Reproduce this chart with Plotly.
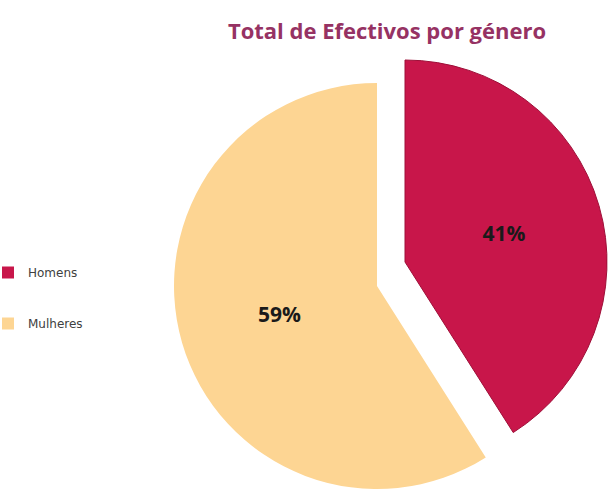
import plotly.graph_objects as go

# Data
labels = ["Homens", "Mulheres"]
values = [41, 59]
colors = ["#C8164A", "#FDD593"]
title_text = "Total de Efectivos por género"

W, H = 610, 492
total = sum(values)
pct_text = [f"<b>{v / total * 100:.0f}%</b>" for v in values]
clear = "rgba(0,0,0,0)"


def box(cx, cy, r):
    """Pie domain (paper coords) for a pie of radius r centred at pixel (cx, cy)."""
    return dict(x=[(cx - r) / W, (cx + r) / W],
                y=[1 - (cy + r) / H, 1 - (cy - r) / H])


common = dict(labels=labels, values=values, sort=False, direction="clockwise",
              rotation=0, hoverinfo="skip", textinfo="text",
              textfont=dict(family="Open Sans, Lato, sans-serif", size=21, color="#1a1a1a"),
              insidetextorientation="horizontal", showlegend=False)

fig = go.Figure()

# Legend-only pies (one per label, separated legend groups), tucked under the main pie
for i, lab in enumerate(labels):
    fig.add_trace(go.Pie(labels=[lab], values=[values[i]], sort=False,
                         marker=dict(colors=[colors[i]], line=dict(width=0)),
                         textinfo="none", hoverinfo="skip",
                         domain=dict(x=[0.40, 0.401], y=[0.40, 0.401]),
                         legendgroup=lab, showlegend=True))

# Mulheres slice (Homens slot left empty)
fig.add_trace(go.Pie(**common,
                     text=["", pct_text[1]],
                     marker=dict(colors=[clear, colors[1]], line=dict(width=0)),
                     domain=box(377, 286, 203)))

# Homens slice, exploded out from the centre
fig.add_trace(go.Pie(**common,
                     text=[pct_text[0], ""],
                     marker=dict(colors=[colors[0], clear],
                                 line=dict(color=["#9E0F38", clear], width=1)),
                     domain=box(405, 262, 202)))

fig.update_layout(
    width=W, height=H,
    margin=dict(l=0, r=0, t=0, b=0, autoexpand=False),
    paper_bgcolor="white",
    title=dict(text=f"<b>{title_text}</b>", x=387 / W, xanchor="center",
               y=1 - 31 / H, yanchor="middle",
               font=dict(family="Open Sans, Lato, sans-serif", size=22, color="#963263")),
    legend=dict(x=-12 / W, xanchor="left", y=1 - 258 / H, yanchor="top",
                font=dict(family="DejaVu Sans, sans-serif", size=12, color="#404040"),
                tracegroupgap=32, traceorder="grouped", itemwidth=30,
                bgcolor="rgba(0,0,0,0)"),
)

fig.write_html("out.html")
